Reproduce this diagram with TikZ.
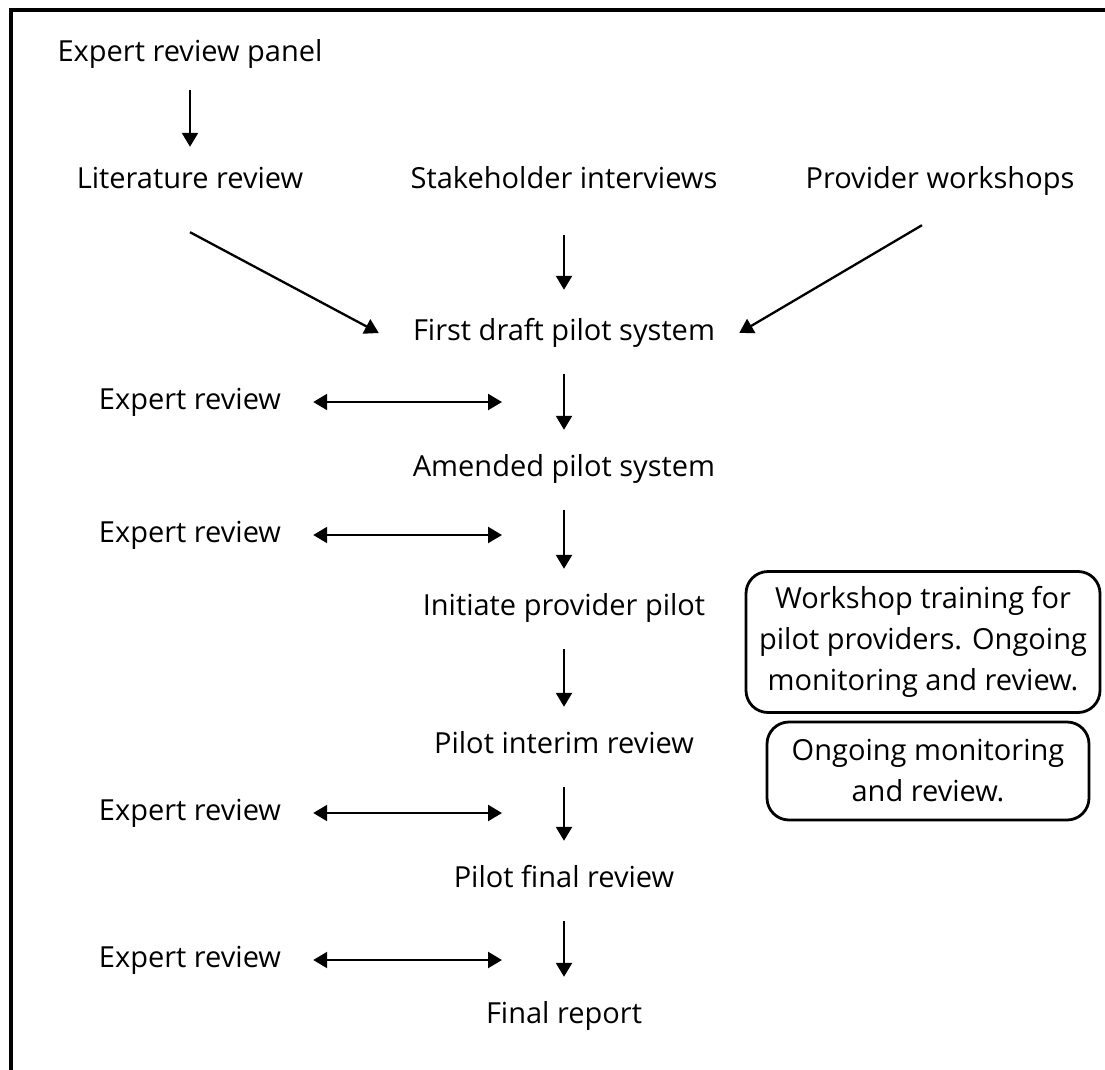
\documentclass[tikz,border=0pt]{standalone}
\usepackage{fontspec}
\setmainfont{Open Sans}
\usetikzlibrary{arrows.meta,positioning,calc}

\begin{document}
\begin{tikzpicture}[
    x=1pt, y=-1pt,
    every node/.style={font=\fontsize{29}{41}\selectfont},
    stage/.style={inner sep=0pt, text height=20pt, text depth=6pt, align=center},
    note/.style={draw, line width=2.8pt, rounded corners=22pt, align=center, inner sep=0pt},
    line/.style={draw, line width=2.3pt, -{Triangle[length=14pt, width=16pt]}},
    twoway/.style={draw, line width=2.3pt, {Triangle[length=14pt, width=16pt]}-{Triangle[length=14pt, width=16pt]}},
    down/.style={line, shorten <=28pt, shorten >=26pt}
  ]
    \useasboundingbox (0,0) rectangle (1105,1070);
    % frame
    \draw[line width=3.2pt] (11,1070) -- (11,10) -- (1105,10);

    % Nodes top
    \node[stage] (panel) at (190,55) {Expert review panel};
    \node[stage] (lit) at (190,181) {Literature review};
    \node[stage] (stake) at (564,181) {Stakeholder interviews};
    \node[stage] (prov) at (940,181) {Provider workshops};

    % Nodes main column
    \node[stage] (first) at (564,333) {First draft pilot system};
    \node[stage] (amend) at (564,469) {Amended pilot system};
    \node[stage] (init) at (564,608) {Initiate provider pilot};
    \node[stage] (interim) at (564,746) {Pilot interim review};
    \node[stage] (final) at (564,880) {Pilot final review};
    \node[stage] (report) at (564,1016) {Final report};

    % Expert reviews
    \node[stage] (exp1) at (190,402) {Expert review};
    \node[stage] (exp2) at (190,535) {Expert review};
    \node[stage] (exp3) at (190,813) {Expert review};
    \node[stage] (exp4) at (190,960) {Expert review};
    \coordinate (m1) at (502,402);
    \coordinate (m2) at (502,535);
    \coordinate (m3) at (502,813);
    \coordinate (m4) at (502,960);

    % Notes
    \node[note, minimum width=354pt, minimum height=141pt] (train) at (923,642) {Workshop training for\\pilot providers. Ongoing\\monitoring and review.};
    \node[note, minimum width=322pt, minimum height=98pt] (monitor) at (928,771) {Ongoing monitoring\\and review.};

    % Edges top
    \draw[line, shorten <=22pt, shorten >=21pt] (panel) -- (lit);
    \draw[line] ([yshift=-38pt]lit.south) -- ([xshift=-34pt]first.west);
    \draw[line, shorten <=41pt, shorten >=30pt] (stake) -- (first);
    \draw[line] ([xshift=-18pt,yshift=-31pt]prov.south) -- ([xshift=24pt]first.east);

    % Edges main column
    \draw[down] (first) -- (amend);
    \draw[down] (amend) -- (init);
    \draw[down] (init) -- (interim);
    \draw[down] (interim) -- (final);
    \draw[down] (final) -- (report);

    % Expert review links
    \draw[twoway] ([xshift=32pt]exp1.east) -- (m1);
    \draw[twoway] ([xshift=32pt]exp2.east) -- (m2);
    \draw[twoway] ([xshift=32pt]exp3.east) -- (m3);
    \draw[twoway] ([xshift=32pt]exp4.east) -- (m4);
  \end{tikzpicture}
\end{document}
